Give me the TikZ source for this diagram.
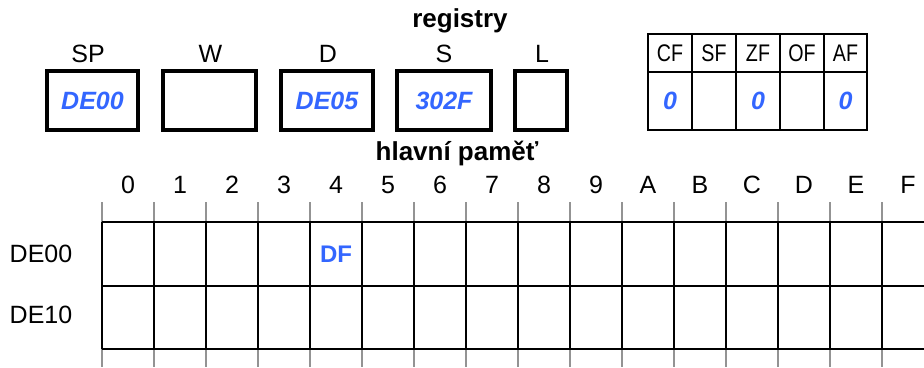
\documentclass[tikz,border=0pt]{standalone}
\usepackage{fontspec}
\setmainfont{Liberation Sans}
\newfontfamily\narrowsf[FakeStretch=0.82]{Liberation Sans}
\usetikzlibrary{positioning}
\definecolor{valblue}{RGB}{51,102,255}

\begin{document}
\begin{tikzpicture}[
  x=1pt, y=-1pt,
  font=\fontsize{25}{30}\selectfont,
  reg/.style={draw, line width=4.5pt, minimum height=59pt, inner sep=0pt, outer sep=0pt,
    text=valblue, font=\fontsize{25}{30}\selectfont\bfseries\itshape},
  lbl/.style={anchor=base, inner sep=0pt},
  ttl/.style={anchor=base, inner sep=0pt, font=\fontsize{26}{30}\selectfont\bfseries},
  flg/.style={draw, line width=2.5pt, minimum width=44pt, inner sep=0pt, outer sep=0pt},
  flghd/.style={flg, minimum height=38pt, font=\fontsize{24}{28}\selectfont\narrowsf},
  flgval/.style={flg, minimum height=58pt, text=valblue, font=\fontsize{25}{30}\selectfont\bfseries\itshape},
  memline/.style={line width=2.5pt},
  guide/.style={draw=gray!85, line width=1.8pt},
]
\useasboundingbox (0,0) rectangle (924,367);
\def\rowA{222}\def\rowB{286}\def\rowC{349}
% registers
\node[ttl] (regT) at (460,27) {registry};
\node[reg, minimum width=91pt] (sp) at (92.5,100.5) {DE00};
\node[reg, minimum width=93pt] (w) at (209.5,100.5) {};
\node[reg, minimum width=92pt] (d) at (327,100.5) {DE05};
\node[reg, minimum width=94pt] (s) at (444,100.5) {302F};
\node[reg, minimum width=52pt] (l) at (541,100.5) {};
\node[lbl] (spT) at (88,62) {SP};
\node[lbl] (wT) at (210.5,62) {W};
\node[lbl] (dT) at (328,62) {D};
\node[lbl] (sT) at (444,62) {S};
\node[lbl] (lT) at (542,62) {L};
% flags
\node[flghd] (cf) at (670,53) {CF};
\node[flghd, right=0pt of cf] (sf) {SF};
\node[flghd, right=0pt of sf] (zf) {ZF};
\node[flghd, right=0pt of zf] (of) {OF};
\node[flghd, right=0pt of of, minimum width=43pt] (af) {AF};
\node[flgval, below=0pt of cf] (cfV) {0};
\node[flgval, below=0pt of sf] (sfV) {};
\node[flgval, below=0pt of zf] (zfV) {0};
\node[flgval, below=0pt of of] (ofV) {};
\node[flgval, below=0pt of af, minimum width=43pt] (afV) {0};
% main memory
\node[ttl] (memT) at (457,160) {hlavní paměť};
\foreach \c [count=\i from 0] in {0,1,2,3,4,5,6,7,8,9,A,B,C,D,E,F}
  \node[lbl] (col\c) at (128+52*\i,193) {\c};
\foreach \i in {0,...,16} {
  \draw[guide] (102+52*\i,202) -- (102+52*\i,\rowA);
  \draw[guide] (102+52*\i,\rowC) -- (102+52*\i,367);
  \draw[memline] (102+52*\i,\rowA) -- (102+52*\i,\rowC);
}
\foreach \y in {\rowA,\rowB,\rowC}
  \draw[memline] (102,\y) -- (924,\y);
\node[lbl] (row0) at (41,262) {DE00};
\node[lbl] (row1) at (41,323) {DE10};
\node[lbl, text=valblue, font=\fontsize{24}{28}\selectfont\bfseries] (m04) at (336,262) {DF};
\end{tikzpicture}
\end{document}
